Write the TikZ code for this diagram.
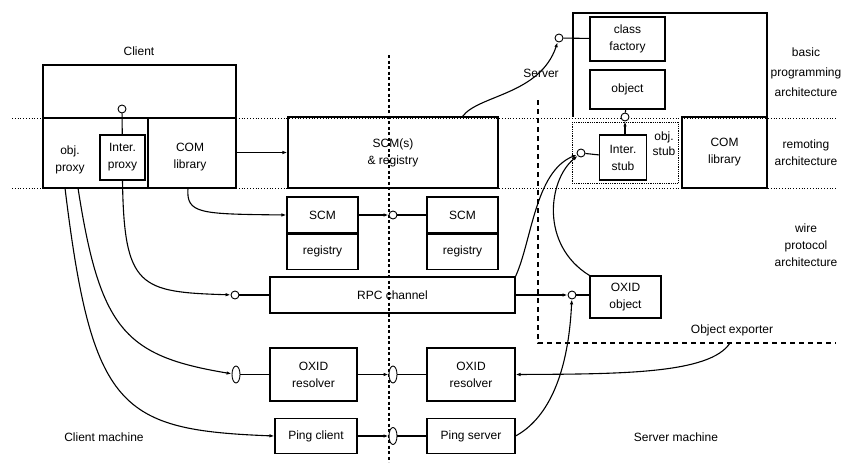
\documentclass[tikz,border=0pt]{standalone}
\usepackage{fontspec}
\setmainfont{Liberation Sans}
\usetikzlibrary{shapes.geometric,arrows.meta}
\begin{document}
\begin{tikzpicture}[x=1pt,y=-1pt,line width=1.1pt,
  font=\fontsize{12}{17}\selectfont,
  box/.style={draw,align=center,inner sep=0pt},
  txt/.style={align=center,inner sep=0pt},
  lolli/.style={circle,draw,line width=0.9pt,minimum size=8pt,inner sep=0pt,fill=white},
  oval/.style={ellipse,draw,line width=0.9pt,minimum width=8pt,minimum height=17pt,inner sep=0pt,fill=white},
  arr/.style={-{Latex[length=5pt,width=3.5pt]}},
  sep/.style={line width=0.8pt,dotted}]
\useasboundingbox (0,0) rectangle (844,466);
\draw[sep] (12,118) -- (836,118);
\draw[sep] (12,188) -- (836,188);
\draw[dash pattern=on 3pt off 2.5pt] (389,55) -- (389,462);
\draw[dash pattern=on 5pt off 4pt] (538,100) -- (538,343) -- (836,343);

\node[draw,minimum width=193pt,minimum height=123pt] (client) at (139.5,126.5) {};
\draw (client.west |- 0,118) -- (client.east |- 0,118);
\draw (148,118) -- (148,188);
\node at (139,51) {Client};
\node[box,minimum width=45pt,minimum height=45pt] (iproxy) at (122.5,157.5) {Inter.\\proxy};
\node[txt] (oproxy) at (70,160) {obj.\\proxy};
\node[txt] (comc) at (190,157) {COM\\library};
\node[lolli] (pc) at (122,109) {};
\draw (pc) -- (iproxy);
\coordinate (p1) at (65,188);
\coordinate (p2) at (78,188);
\coordinate (cb) at (188,188);

\node[box,minimum width=210pt,minimum height=71pt] (scmreg) at (393,152.5) {SCM(s)\\\& registry};
\draw[arr] (client.east |- scmreg.west) -- (scmreg.west);

\draw (573,117) |- (767,13) -- (767,117);
\node[box,minimum width=85pt,minimum height=71pt] (coms) at (724.5,152.5) {COM\\library};
\node[box,minimum width=75pt,minimum height=44pt] (factory) at (627.5,39) {class\\factory};
\node[box,minimum width=75pt,minimum height=39pt] (object) at (627.5,89.5) {object};
\draw[line width=0.8pt,densely dotted] (572,122) rectangle (678,183);
\node[box,minimum width=47pt,minimum height=45pt] (istub) at (623,157.5) {Inter.\\stub};
\node[txt,font=\fontsize{12}{15}\selectfont] at (664,144) {obj.\\stub};
\node[lolli] (oc) at (625,117) {};
\draw (object) -- (oc);
\draw[arr] (istub.north -| oc) -- (oc);
\node[lolli] (fc) at (559,38) {};
\draw (fc) -- (factory);
\node[lolli] (sc) at (581,153) {};
\draw (sc) -- (istub);
\node at (541,73) {Server};
\draw[arr] ([xshift=-36pt]scmreg.north east) .. controls (478,95) and (540,95) .. (fc);

\node[box,minimum width=71pt,minimum height=36pt] (scmc) at (322.5,215) {SCM};
\node[box,minimum width=71pt,minimum height=35pt,anchor=north] (regc) at (scmc.south) {registry};
\node[box,minimum width=71pt,minimum height=36pt] (scms) at (462.5,215) {SCM};
\node[box,minimum width=71pt,minimum height=35pt,anchor=north] (regs) at (scms.south) {registry};
\node[lolli] (mc) at (393,215) {};
\draw[arr] (scmc) -- (mc);
\draw (mc) -- (scms);
\draw[arr] (cb) .. controls (186,214) and (200,214) .. (scmc.west);

\node[box,minimum width=245pt,minimum height=36pt] (rpc) at (392.5,295) {RPC channel};
\node[lolli] (rc) at (235,295) {};
\draw (rc) -- (rpc);
\draw[arr] (iproxy.south) .. controls (124,288) and (140,292) .. (rc);
\node[box,minimum width=71pt,minimum height=42pt] (oxobj) at (625.5,297) {OXID\\object};
\node[lolli] (xc) at (572,295) {};
\draw[arr] (rpc) -- (xc);
\draw (xc) -- (xc -| oxobj.west);
\draw[arr] (rpc.north east) .. controls (532,240) and (535,172) .. (sc);
\draw[arr] (oxobj.north west) .. controls (540,245) and (548,180) .. (sc);

\node[box,minimum width=87pt,minimum height=53pt] (oxc) at (313.5,374.5) {OXID\\resolver};
\node[box,minimum width=88pt,minimum height=53pt] (oxs) at (471,374.5) {OXID\\resolver};
\node[oval] (ov1) at (236,374.5) {};
\node[oval] (ov2) at (393,374.5) {};
\draw (ov1) -- (oxc);
\draw[arr] (oxc) -- (ov2);
\draw (ov2) -- (oxs);
\draw[arr] (p2) .. controls (100,330) and (125,356) .. (ov1);

\node[box,minimum width=82pt,minimum height=35pt] (pingc) at (316,436) {Ping client};
\node[box,minimum width=88pt,minimum height=35pt] (pings) at (471,436) {Ping server};
\node[oval] (ov3) at (393,436) {};
\draw[arr] (pingc) -- (ov3);
\draw (ov3) -- (pings);
\draw[arr] (p1) .. controls (92,410) and (120,430) .. (pingc.west);
\draw[arr] (pings.east) .. controls (545,420) and (568,380) .. (xc);

\coordinate (ex) at (730,343);
\draw[arr] (ex) .. controls (710,374) and (620,374) .. (oxs.east);
\node at (732,330) {Object exporter};

\node[txt,font=\fontsize{12}{20}\selectfont] at (806,72) {basic\\programming\\architecture};
\node[txt] at (806,153) {remoting\\architecture};
\node[txt] at (806,245) {wire\\protocol\\architecture};
\node at (104,437) {Client machine};
\node at (676,437) {Server machine};
\end{tikzpicture}
\end{document}
